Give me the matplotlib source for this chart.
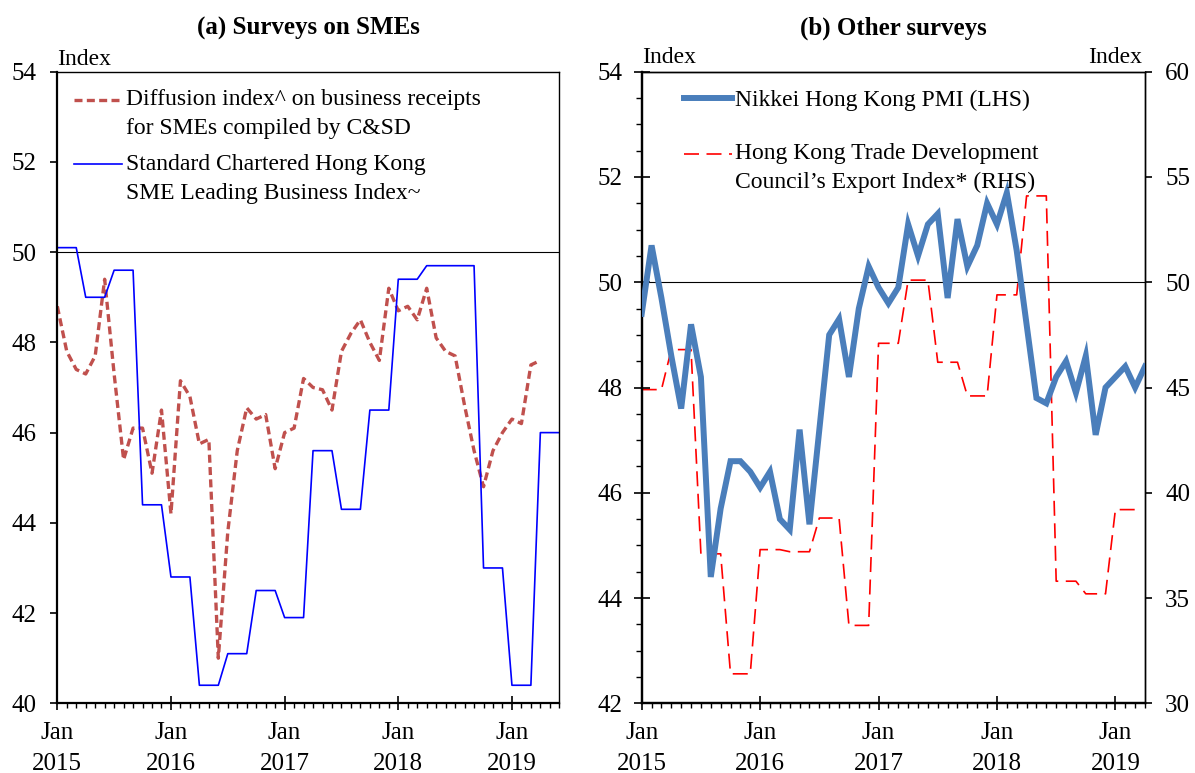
import numpy as np
import matplotlib
matplotlib.use("Agg")
import matplotlib.pyplot as plt
from matplotlib.ticker import MultipleLocator, FixedLocator
from matplotlib.legend_handler import HandlerLine2D

plt.rcParams["font.family"] = ["Liberation Serif", "DejaVu Serif"]

# x positions are months counted from Jan 2015
year_ticks = [0, 12, 24, 36, 48]
year_labels = ["Jan\n2015", "Jan\n2016", "Jan\n2017", "Jan\n2018", "Jan\n2019"]

# (a) C&SD diffusion index on business receipts, Jan 2015 - Apr 2019
csd_index = [48.8, 47.8, 47.4, 47.3, 47.7, 49.4, 47.3, 45.4, 46.1, 46.1, 45.1, 46.5,
             44.2, 47.15, 46.8, 45.75, 45.85, 41.0, 43.8, 45.6, 46.55, 46.3, 46.4, 45.2,
             46.0, 46.1, 47.2, 47.0, 46.95, 46.5, 47.8, 48.2, 48.5, 48.0, 47.6, 49.2,
             48.7, 48.8, 48.5, 49.2, 48.1, 47.8, 47.7, 46.6, 45.6, 44.8, 45.6, 46.0,
             46.3, 46.2, 47.5, 47.6]

# (a) Standard Chartered SME index (quarterly, shown monthly), Jan 2015 - Jun 2019
sc_index = [50.1, 50.1, 50.1, 49.0, 49.0, 49.0, 49.6, 49.6, 49.6, 44.4, 44.4, 44.4,
            42.8, 42.8, 42.8, 40.4, 40.4, 40.4, 41.1, 41.1, 41.1, 42.5, 42.5, 42.5,
            41.9, 41.9, 41.9, 45.6, 45.6, 45.6, 44.3, 44.3, 44.3, 46.5, 46.5, 46.5,
            49.4, 49.4, 49.4, 49.7, 49.7, 49.7, 49.7, 49.7, 49.7, 43.0, 43.0, 43.0,
            40.4, 40.4, 40.4, 46.0, 46.0, 46.0]

# (b) Nikkei Hong Kong PMI, Jan 2015 - Apr 2019
pmi = [49.4, 50.7, 49.7, 48.6, 47.6, 49.2, 48.2, 44.4, 45.7, 46.6, 46.6, 46.4,
       46.1, 46.4, 45.5, 45.3, 47.2, 45.4, 47.2, 49.0, 49.3, 48.2, 49.5, 50.3,
       49.9, 49.6, 49.9, 51.1, 50.5, 51.1, 51.3, 49.7, 51.2, 50.3, 50.7, 51.5,
       51.1, 51.7, 50.6, 49.2, 47.8, 47.7, 48.2, 48.5, 47.9, 48.6, 47.1, 48.0,
       48.2, 48.4, 48.0, 48.4]

# (b) HKTDC Export Index (quarterly, shown monthly), Jan 2015 - Mar 2019
tdc_export = [44.9, 44.9, 44.9, 46.8, 46.8, 46.8, 37.1, 37.1, 37.1, 31.4, 31.4, 31.4,
              37.3, 37.3, 37.3, 37.2, 37.2, 37.2, 38.8, 38.8, 38.8, 33.7, 33.7, 33.7,
              47.1, 47.1, 47.1, 50.1, 50.1, 50.1, 46.2, 46.2, 46.2, 44.6, 44.6, 44.6,
              49.4, 49.4, 49.4, 54.1, 54.1, 54.1, 35.8, 35.8, 35.8, 35.2, 35.2, 35.2,
              39.2, 39.2, 39.2]


class FirstLineHandler(HandlerLine2D):
    # put the legend key next to the first line of a two-line label
    def __init__(self, shift=0, **kw):
        super().__init__(**kw)
        self.shift = shift

    def create_artists(self, legend, orig_handle, xdescent, ydescent,
                       width, height, fontsize, trans):
        arts = super().create_artists(legend, orig_handle, xdescent, ydescent,
                                      width, height, fontsize, trans)
        for a in arts:
            a.set_ydata(np.asarray(a.get_ydata()) + self.shift)
        return arts


def style_x(ax, xmax):
    ax.set_xlim(0, xmax)
    ax.xaxis.set_major_locator(FixedLocator(year_ticks))
    ax.set_xticklabels(year_labels)
    ax.xaxis.set_minor_locator(MultipleLocator(1))
    ax.tick_params(axis="x", which="major", direction="inout", length=9.5,
                   width=1.2, pad=9, labelsize=18)
    ax.tick_params(axis="x", which="minor", direction="out", length=3.5, width=1)
    for lab in ax.get_xticklabels():
        lab.set_linespacing(1.5)


fig = plt.figure(figsize=(11.95, 7.73), dpi=100)
ax1 = fig.add_axes([57.3 / 1195, 69.7 / 773, 502 / 1195, 631.6 / 773])
axr = fig.add_axes([641.7 / 1195, 69.7 / 773, 503.3 / 1195, 631.6 / 773])
axr2 = axr.twinx()
axr2.set_zorder(1)
axr.set_zorder(2)
axr.patch.set_visible(False)

# ---- (a) Surveys on SMEs
m_csd = np.arange(len(csd_index))
m_sc = np.arange(len(sc_index))
ax1.axhline(50, color="black", lw=0.8, zorder=1)
l_csd, = ax1.plot(m_csd, csd_index, color="#C0504D", lw=2.4, dashes=(2.4, 1.3),
                  label="Diffusion index^ on business receipts\nfor SMEs compiled by C&SD")
l_sc, = ax1.plot(m_sc, sc_index, color="#0000FF", lw=1.2,
                 label="Standard Chartered Hong Kong\nSME Leading Business Index~")
style_x(ax1, 53)
ax1.set_ylim(40, 54)
ax1.yaxis.set_major_locator(MultipleLocator(2))
ax1.tick_params(axis="y", direction="out", length=5, width=1.2, pad=10, labelsize=18)
for s in ["left", "bottom"]:
    ax1.spines[s].set_linewidth(1.6)
for s in ["top", "right"]:
    ax1.spines[s].set_linewidth(1.0)
ax1.text(0, 1.011, "Index", transform=ax1.transAxes, fontsize=17,
         ha="left", va="baseline")
ax1.set_title("(a) Surveys on SMEs", fontsize=18, fontweight="bold", pad=27)
leg1 = ax1.legend(handles=[l_csd, l_sc], loc="upper left", bbox_to_anchor=(0.034, 0.972),
                  frameon=False, fontsize=17, handlelength=2.0, handletextpad=0.2,
                  borderpad=0, borderaxespad=0, labelspacing=0.6,
                  handler_map={l_csd: FirstLineHandler(shift=10),
                               l_sc: FirstLineHandler(shift=10)})
for t in leg1.get_texts():
    t.set_linespacing(1.5)

# ---- (b) Other surveys
m_pmi = np.arange(len(pmi))
m_tdc = np.arange(len(tdc_export))
axr.axhline(50, color="black", lw=0.8, zorder=1)
l_pmi, = axr.plot(m_pmi, pmi, color="#4A7EBB", lw=4.3, solid_joinstyle="miter",
                  label="Nikkei Hong Kong PMI (LHS)", zorder=3)
l_tdc, = axr2.plot(m_tdc, tdc_export, color="#FF0000", lw=1.2, dashes=(9, 4.5),
                   label="Hong Kong Trade Development\nCouncil\u2019s Export Index* (RHS)")
style_x(axr, 51)
axr.set_ylim(42, 54)
axr.yaxis.set_major_locator(MultipleLocator(2))
axr.yaxis.set_minor_locator(MultipleLocator(0.5))
axr.tick_params(axis="y", which="major", direction="inout", length=11, width=1.2,
                pad=8, labelsize=18)
axr.tick_params(axis="y", which="minor", direction="out", length=4, width=1)
axr2.set_ylim(30, 60)
axr2.yaxis.set_major_locator(MultipleLocator(5))
axr2.tick_params(axis="y", direction="out", length=5, width=1.2, pad=9.5, labelsize=18)
for a in (axr, axr2):
    a.spines["left"].set_linewidth(1.6)
    a.spines["bottom"].set_linewidth(1.6)
    a.spines["top"].set_linewidth(1.0)
    a.spines["right"].set_linewidth(1.0)
axr.text(0, 1.013, "Index", transform=axr.transAxes, fontsize=17,
         ha="left", va="baseline")
axr.text(0.995, 1.013, "Index", transform=axr.transAxes, fontsize=17,
         ha="right", va="baseline")
axr.set_title("(b) Other surveys", fontsize=18, fontweight="bold", pad=27)
leg2 = axr.legend(handles=[l_pmi, l_tdc], loc="upper left", bbox_to_anchor=(0.085, 0.972),
                  frameon=False, fontsize=17, handlelength=2.0, handletextpad=0.15,
                  borderpad=0, borderaxespad=0, labelspacing=1.35,
                  handler_map={l_tdc: FirstLineHandler(shift=10)})
for t in leg2.get_texts():
    t.set_linespacing(1.5)

fig.savefig("out.png", dpi=100)
